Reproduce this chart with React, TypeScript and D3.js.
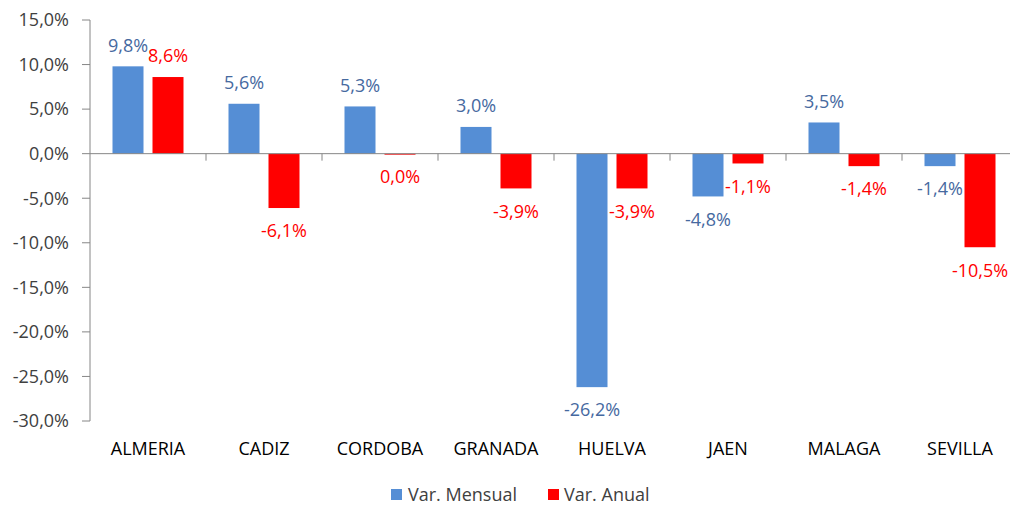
import * as d3 from 'd3';

const categories = ['ALMERIA', 'CADIZ', 'CORDOBA', 'GRANADA', 'HUELVA', 'JAEN', 'MALAGA', 'SEVILLA'];
const mensual = [9.8, 5.6, 5.3, 3.0, -26.2, -4.8, 3.5, -1.4];
const anual = [8.6, -6.1, -0.04, -3.9, -3.9, -1.1, -1.4, -10.5];
const yTicks = [15, 10, 5, 0, -5, -10, -15, -20, -25, -30];
const seriesNames = ['Var. Mensual', 'Var. Anual'];

const width = 1010;
const height = 506;
const font = '"Open Sans", sans-serif';
const blue = '#558ED5';
const red = '#FF0000';
const blueText = '#46699F';
const axisColor = '#868686';
const textColor = '#404040';

const fmt = (v: number) => {
  const s = Math.abs(v) < 0.05 ? '0.0' : v.toFixed(1);
  return s.replace('.', ',') + '%';
};

const App = () => {
  const x = d3.scaleBand().domain(categories).range([90, 1018]);
  const y = d3.scaleLinear().domain([-30, 15]).range([421, 20]);
  const barW = 31;
  const gap = 9;
  const offset = (x.bandwidth() - 2 * barW - gap) / 2;

  const series = [
    { name: seriesNames[0], values: mensual, color: blue, text: blueText, dx: offset },
    { name: seriesNames[1], values: anual, color: red, text: red, dx: offset + barW + gap },
  ];

  return (
    <svg width={width} height={height} style={{ display: 'block', position: 'absolute', left: 0, top: 0 }}>
      <rect width={width} height={height} fill="#fff" />
      {/* y axis */}
      <line x1={90} x2={90} y1={y(15)} y2={y(-30)} stroke={axisColor} strokeWidth={1} />
      {yTicks.map((t) => (
        <g key={t}>
          <line x1={82} x2={90} y1={y(t)} y2={y(t)} stroke={axisColor} />
          <text x={69} y={y(t)} dy="0.35em" textAnchor="end" fontFamily={font} fontSize={18} fill={textColor}>
            {fmt(t)}
          </text>
        </g>
      ))}
      {/* bars */}
      {series.map((s) =>
        s.values.map((v, i) => {
          const bx = (x(categories[i]) as number) + s.dx;
          const top = y(Math.max(0, v));
          const h = Math.max(1, Math.abs(y(v) - y(0)));
          return (
            <g key={s.name + i}>
              <rect x={bx} y={top} width={barW} height={h} fill={s.color} />
              <text
                x={bx + barW / 2}
                y={v >= 0 ? y(v) - 21 : y(v) + 23}
                dy="0.35em"
                textAnchor="middle"
                fontFamily={font}
                fontSize={18}
                fill={s.text}
              >
                {fmt(v)}
              </text>
            </g>
          );
        })
      )}
      {/* zero line and category ticks */}
      <line x1={90} x2={1018} y1={y(0)} y2={y(0)} stroke={axisColor} />
      {categories.map((c, i) => (
        <line
          key={c + 't'}
          x1={(x(c) as number) + x.bandwidth()}
          x2={(x(c) as number) + x.bandwidth()}
          y1={y(0)}
          y2={y(0) + 7}
          stroke={axisColor}
        />
      ))}
      {categories.map((c) => (
        <text
          key={c}
          x={(x(c) as number) + x.bandwidth() / 2}
          y={449}
          dy="0.35em"
          textAnchor="middle"
          fontFamily={font}
          fontSize={18}
          fill="#000"
        >
          {c}
        </text>
      ))}
      {/* legend */}
      <rect x={391} y={489} width={11} height={11} fill={blue} />
      <text x={408} y={494.5} dy="0.35em" fontFamily={font} fontSize={18} fill={textColor}>
        {seriesNames[0]}
      </text>
      <rect x={548} y={489} width={11} height={11} fill={red} />
      <text x={564} y={494.5} dy="0.35em" fontFamily={font} fontSize={18} fill={textColor}>
        {seriesNames[1]}
      </text>
    </svg>
  );
};

export default App;
